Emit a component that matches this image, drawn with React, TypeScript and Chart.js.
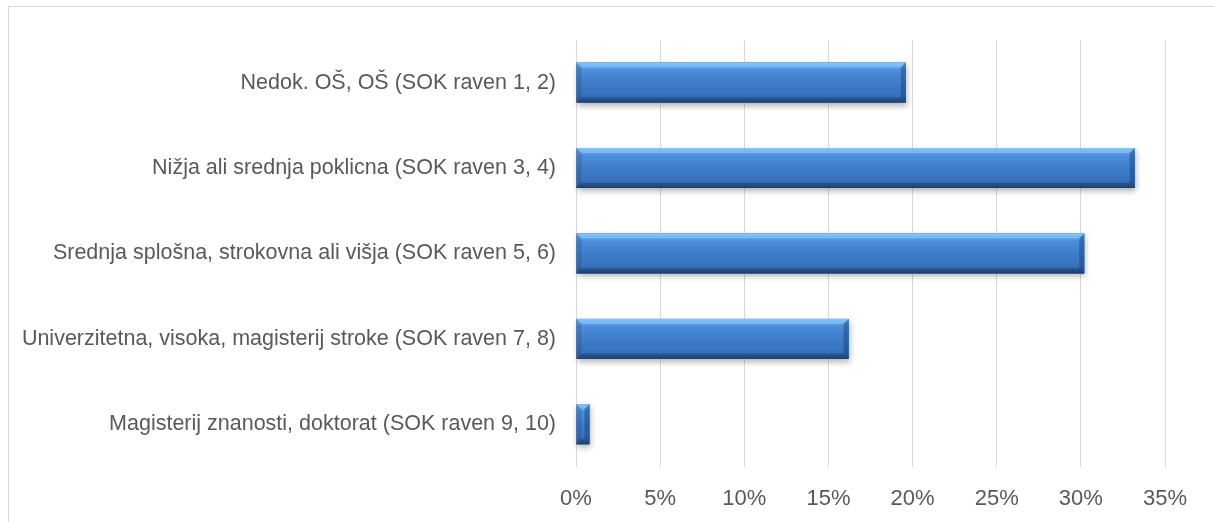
import React, { useEffect, useRef } from "react";
import { Chart, registerables } from "chart.js";

Chart.register(...registerables);

const categories = [
  "Nedok. OŠ, OŠ (SOK raven 1, 2)",
  "Nižja ali srednja poklicna (SOK raven 3, 4)",
  "Srednja splošna, strokovna ali višja (SOK raven 5, 6)",
  "Univerzitetna, visoka, magisterij stroke (SOK raven 7, 8)",
  "Magisterij znanosti, doktorat (SOK raven 9, 10)",
];
const shares = [19.6, 33.2, 30.2, 16.2, 0.8];
const axisMin = 0;
const axisMax = 35;
const axisStep = 5;

const FONT = "'Liberation Sans', Arial, sans-serif";
const TEXT = "#595959";
const GRID = "#d9d9d9";

const bevelPlugin = {
  id: "bevel",
  beforeDatasetsDraw(chart: any) {
    const ctx = chart.ctx;
    const meta = chart.getDatasetMeta(0);
    ctx.save();
    meta.data.forEach((el: any) => {
      const { x, y, base, height } = el.getProps(["x", "y", "base", "height"], true);
      const l = Math.min(x, base), r = Math.max(x, base);
      const t = y - height / 2, b = y + height / 2;
      ctx.shadowColor = "rgba(0,0,0,0.3)";
      ctx.shadowBlur = 6;
      ctx.shadowOffsetX = 1;
      ctx.shadowOffsetY = 3;
      ctx.fillStyle = "#2d5f9e";
      ctx.fillRect(l, t, r - l, b - t);
    });
    ctx.restore();
  },
  afterDatasetsDraw(chart: any) {
    const ctx = chart.ctx;
    const meta = chart.getDatasetMeta(0);
    ctx.save();
    meta.data.forEach((el: any) => {
      const { x, y, base, height } = el.getProps(["x", "y", "base", "height"], true);
      const l = Math.min(x, base), r = Math.max(x, base);
      const t = y - height / 2, bt = y + height / 2;
      const g = ctx.createLinearGradient(0, t, 0, bt);
      g.addColorStop(0, "#7cbcf2");
      g.addColorStop(0.06, "#66a8ec");
      g.addColorStop(0.2, "#4b8dda");
      g.addColorStop(0.5, "#3e7dca");
      g.addColorStop(0.8, "#3873bd");
      g.addColorStop(0.93, "#2f62a3");
      g.addColorStop(1, "#22487c");
      ctx.fillStyle = g;
      ctx.fillRect(l, t, r - l, bt - t);
      const bv = Math.min(5, (r - l) / 2);
      const poly = (pts: number[][], fill: string) => {
        ctx.beginPath();
        ctx.moveTo(pts[0][0], pts[0][1]);
        for (let i = 1; i < pts.length; i++) ctx.lineTo(pts[i][0], pts[i][1]);
        ctx.closePath();
        ctx.fillStyle = fill;
        ctx.fill();
      };
      poly([[l, t], [r, t], [r - bv, t + bv], [l + bv, t + bv]], "rgba(150,210,255,0.45)");
      poly([[l, bt], [r, bt], [r - bv, bt - bv], [l + bv, bt - bv]], "rgba(15,40,80,0.35)");
      poly([[r, t], [r, bt], [r - bv, bt - bv], [r - bv, t + bv]], "rgba(20,55,105,0.4)");
      poly([[l, t], [l, bt], [l + bv, bt - bv], [l + bv, t + bv]], "rgba(20,55,105,0.2)");
    });
    ctx.restore();
  },
};

function BarChart() {
  const ref = useRef<HTMLCanvasElement | null>(null);
  useEffect(() => {
    if (!ref.current) return;
    const chart = new Chart(ref.current, {
      type: "bar",
      data: {
        labels: categories,
        datasets: [
          {
            data: shares,
            backgroundColor: "#3f7ecb",
            borderWidth: 0,
            categoryPercentage: 1,
            barPercentage: 0.468,
          },
        ],
      },
      options: {
        indexAxis: "y",
        responsive: false,
        animation: false,
        events: [],
        layout: { padding: { left: 0, top: 27, right: 49, bottom: 0 } },
        plugins: { legend: { display: false }, tooltip: { enabled: false }, title: { display: false } },
        scales: {
          x: {
            min: axisMin,
            max: axisMax,
            ticks: {
              stepSize: axisStep,
              color: TEXT,
              font: { family: FONT, size: 22 },
              padding: 19,
              maxRotation: 0,
              callback: (v: any) => `${v}%`,
            },
            grid: { color: GRID, lineWidth: 1, drawTicks: false },
            border: { display: false },
            afterFit: (s: any) => {
              s.height = 55;
            },
          },
          y: {
            ticks: {
              color: TEXT,
              font: { family: FONT, size: 21.5 },
              padding: 20,
              autoSkip: false,
            },
            grid: { display: false, drawTicks: false },
            border: { display: false },
            afterFit: (s: any) => {
              s.width = 567;
            },
          },
        },
      },
      plugins: [bevelPlugin],
    } as any);
    return () => chart.destroy();
  }, []);
  return <canvas ref={ref} width={1205} height={515} style={{ display: "block", width: 1205, height: 515 }} />;
}

export default function App() {
  return (
    <div
      style={{
        position: "fixed",
        left: 8,
        top: 6,
        width: 1300,
        height: 600,
        border: "1px solid #d9d9d9",
        background: "#fff",
        boxSizing: "border-box",
      }}
    >
      <BarChart />
    </div>
  );
}
